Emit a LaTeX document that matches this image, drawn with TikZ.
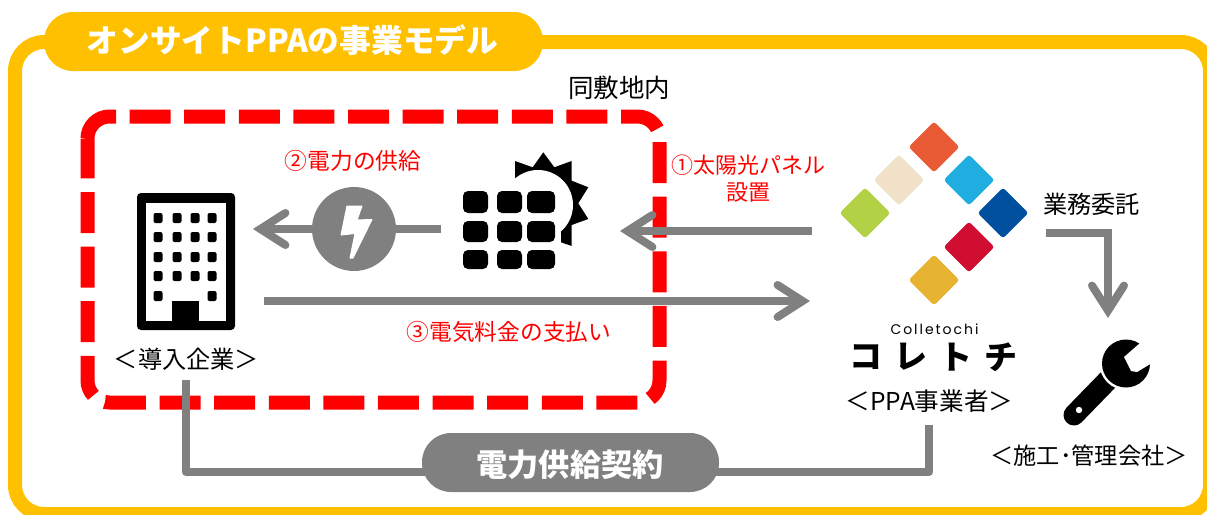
\documentclass[tikz,border=0pt]{standalone}
\usepackage{fontspec}
\setmainfont{Noto Sans CJK JP}
\newfontfamily\latinlogo[LetterSpace=14]{Poppins}
\usetikzlibrary{arrows.meta}
\definecolor{frameyellow}{HTML}{FFC000}
\definecolor{flowgray}{HTML}{808080}
\tikzset{
	flow/.style={draw=flowgray, line width=8pt, -{Straight Barb[length=25pt,width=32pt,line cap=round,line join=miter]}},
	plainflow/.style={draw=flowgray, line width=8pt, line join=round},
	pill/.style={fill=#1, rounded corners=29pt},
	blacklabel/.style={font=\fontsize{24.2}{27}\selectfont},
	redlabel/.style={text=red, align=center, font=\fontsize{22.7}{27}\selectfont},
	tile/.style={fill=#1, rotate=45, minimum size=36pt, inner sep=0pt, rounded corners=3pt},
	panelcell/.style={fill=black, rounded corners=5pt},
	window/.style={fill=black, rounded corners=2pt}
}
\begin{document}
\begin{tikzpicture}[x=1pt,y=-1pt]
	\useasboundingbox (0,0) rectangle (1207,514);
	\clip (0,0) rectangle (1207,514);

	% frame
	\draw[frameyellow, line width=14pt, rounded corners=29pt] (15,42) rectangle (1210,514);
	\node[pill=frameyellow, minimum width=499pt, minimum height=59pt, inner sep=0pt] (title) at (293.5,41.5) {};
	\node[text=white, font=\fontsize{31.7}{36}\selectfont\bfseries] (titletext) at (292.5,40) {オンサイトPPAの事業モデル};

	% same site
	\draw[red, line width=14pt, dash pattern=on 41pt off 13.6pt]
		(87.5,138.5) .. controls (87.5,126.4) and (97.4,116.5) .. (109.5,116.5)
		-- (637.5,116.5) .. controls (649.6,116.5) and (659.5,126.4) .. (659.5,138.5)
		-- (659.5,380.5) .. controls (659.5,392.6) and (649.6,402.5) .. (637.5,402.5)
		-- (109.5,402.5) .. controls (97.4,402.5) and (87.5,392.6) .. (87.5,380.5)
		-- (87.5,138.5);
	\node[blacklabel, font=\fontsize{25.5}{27}\selectfont] (site) at (619,88) {同敷地内};

	% ends of the connectors
	\node (solarout) at (441,229) {};
	\node (bldin) at (253,229) {};
	\node (ppaout) at (812,231) {};
	\node (solarin) at (620,231) {};
	\node (bldout) at (264,301) {};
	\node (ppain) at (810,301) {};
	\node (ppacorner) at (1108,233) {};
	\node (ppaleft) at (1046,233) {};
	\node (repair) at (1108,318) {};
	\node (bldfoot) at (186,380) {};
	\node (ppafoot) at (929,425) {};

	\foreach \i / \j in {
	solarout/bldin,
	ppaout/solarin,
	bldout/ppain}
	{
		\path (\i.center) edge[flow] (\j.center);
	};
	\draw[flow] (ppaleft.center) -- (ppacorner.center) -- (repair.center);
	\draw[plainflow] (bldfoot.center) |- (ppafoot.center |- 0,472) -- (ppafoot.center);

	\node[pill=flowgray, minimum width=297pt, minimum height=59pt, inner sep=0pt] (contract) at (570.5,462.5) {};
	\node[text=white, font=\fontsize{31.2}{36}\selectfont\bfseries] (contracttext) at (570,465) {電力供給契約};

	% bolt
	\node[circle, fill=flowgray, minimum size=84pt, inner sep=0pt] (bolt) at (354,229) {};
	\fill[white, draw=white, line width=1pt, line join=round]
		(347,206) -- (362,206) -- (357,220) -- (372,219.5) -- (353,258) -- (350,258) -- (355,233.5) -- (341,235) -- cycle;

	% building
	\fill[black, rounded corners=4pt] (137,193) rectangle (235,330);
	\fill[white] (146,203) rectangle (226,321);
	\fill[black] (172,301) rectangle (199,321);
	\foreach \x in {158,177,195,212}
	{
		\foreach \y in {218,237,257,276}
		{
			\fill[window] (\x-4.5,\y-5) rectangle (\x+4.5,\y+5);
		};
	};
	\foreach \x in {158,212}
	{
		\fill[window] (\x-4.5,291) rectangle (\x+4.5,301);
	};

	% sun and panel
	\fill[black] (515,161) -- (532.7,167.3) -- (543.3,152.3) -- (554.3,167.3) -- (571.7,161) -- (571.7,180.7)
		-- (588.3,187.3) -- (578.3,203.3) -- (588.3,219) -- (571.7,225) -- (571.7,246) -- (561,242.3) -- (561,232.3) -- (515,181) -- cycle;
	\fill[white] (538,205) circle [radius=35pt];
	\foreach \a / \b in {463/488, 497/522, 527/555}
	{
		\foreach \c / \d in {191/213, 221/242, 250/269}
		{
			\fill[panelcell] (\a,\c) rectangle (\b,\d);
		};
	};

	% logo
	\foreach \x / \y / \c in {
	934/147/E95B34,
	899/180/F0E1C8,
	969/180/20AEE0,
	865/213/B2D145,
	1003/213/00509F,
	969/247/CF0E32,
	934/280/E6B332}
	{
		\definecolor{tilecolor}{HTML}{\c}
		\node[tile=tilecolor] at (\x,\y) {};
	};
	\node[font=\fontsize{14}{16}\selectfont\latinlogo] (latinname) at (934.5,329) {Colletochi};
	\foreach \x / \k in {866/コ, 911/レ, 956/ト, 1001/チ}
	{
		\node[font=\fontsize{33}{36}\selectfont\bfseries] at (\x,357) {\k};
	};

	% wrench
	\draw[black, line width=21pt, line cap=round] (1108,380) -- (1074,415);
	\fill[white] (1079,410) circle [radius=3.2pt];
	\fill[white] (1126,363.5) circle [radius=26.5pt];
	\fill[black] (1126,363.5) circle [radius=24pt];
	\fill[white] (1140,343) -- (1124,357) -- (1131,371) -- (1137,372) -- (1152,363) -- (1165,345) -- (1150,330) -- cycle;

	% labels
	\node[redlabel] (supply) at (353,161) {②電力の供給};
	\node[redlabel, font=\fontsize{22}{27}\selectfont] (install) at (748,179) {①太陽光パネル\\設置};
	\node[redlabel] (payment) at (509,332) {③電気料金の支払い};
	\node[blacklabel] (bldname) at (186.5,359) {＜導入企業＞};
	\node[blacklabel, font=\fontsize{24.6}{27}\selectfont] (ppaname) at (929.5,401) {＜PPA事業者＞};
	\node[blacklabel, font=\fontsize{23.2}{27}\selectfont] (repairname) at (1089,456) {＜施工･管理会社＞};
	\node[blacklabel] (outsource) at (1091.5,204) {業務委託};
\end{tikzpicture}
\end{document}
